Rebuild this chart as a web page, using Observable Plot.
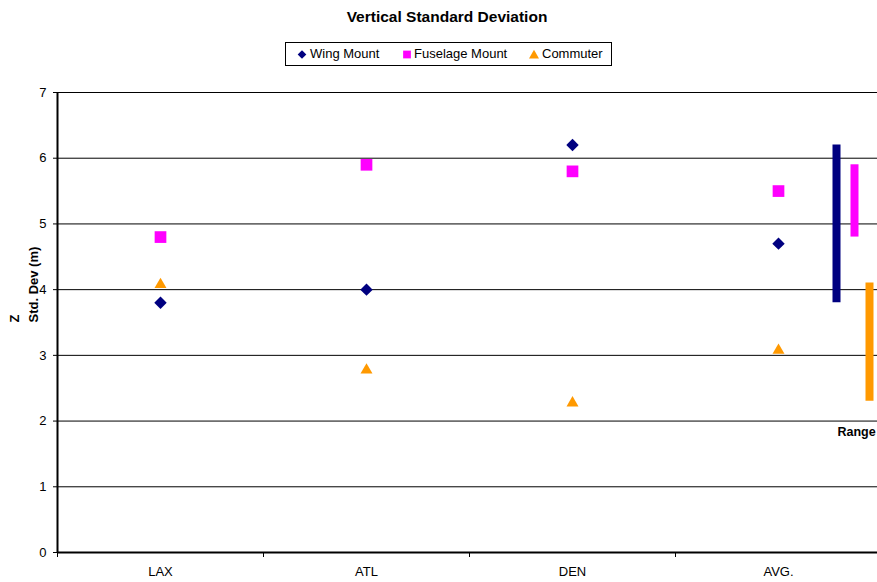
<!DOCTYPE html>
<html>
<head>
<meta charset="utf-8">
<script src="https://cdn.jsdelivr.net/npm/d3@7"></script>
<script src="https://cdn.jsdelivr.net/npm/@observablehq/plot@0.6"></script>
<style>
  html, body { margin: 0; padding: 0; background: #fff; overflow: hidden; }
  #chart { position: relative; width: 877px; height: 582px; overflow: hidden;
           font-family: Arial, "Liberation Sans", sans-serif; color: #000; }
  #title { position: absolute; left: 0; width: 894px; top: 7px; text-align: center;
           font-weight: bold; font-size: 15.5px; line-height: 20px; }
  #legend { position: absolute; left: 285px; top: 42px; width: 325px; height: 22px;
            border: 1px solid #000; box-sizing: content-box; font-size: 13px; }
  .item { position: absolute; top: 0; height: 22px; line-height: 22px; white-space: nowrap; }
  .item svg { position: absolute; top: 0; }
  #plot { position: absolute; left: 0; top: 80px; width: 900px; }
  #plot svg { max-width: none !important; }
</style>
</head>
<body>
<div id="chart">
  <div id="title">Vertical Standard Deviation</div>
  <div id="legend"></div>
  <div id="plot"></div>
</div>
<script>
// Vertical standard deviation (m) per airport, with the average column
const airports = ["LAX", "ATL", "DEN", "AVG."];
const wingMount = [3.8, 4.0, 6.2, 4.7];
const fuselageMount = [4.8, 5.9, 5.8, 5.5];
const commuter = [4.1, 2.8, 2.3, 3.1];
const yTicks = [0, 1, 2, 3, 4, 5, 6, 7];

const seriesNames = ["Wing Mount", "Fuselage Mount", "Commuter"];
const seriesColors = ["#000080", "#FF00FF", "#FF9900"];
const seriesValues = [wingMount, fuselageMount, commuter];

// one row per airport column, positioned at the middle of its slot
const rows = airports.map((name, i) => ({
  name, pos: i + 0.5,
  wing: wingMount[i], fuselage: fuselageMount[i], commuter: commuter[i]
}));
const avgPos = airports.length - 0.5;

// spread of each series over the three airports (the average column excluded)
const ranges = seriesValues.map((vals, k) => {
  const [lo, hi] = d3.extent(vals.slice(0, 3));
  return { name: seriesNames[k], lo, hi };
});

// legend
const legend = document.getElementById("legend");
const legendLayout = [
  { sym: d3.symbolDiamond2, size: 48, cx: 16, text: 24 },
  { sym: d3.symbolSquare, size: 60, cx: 121, text: 128 },
  { sym: d3.symbolTriangle2, size: 72, cx: 248, text: 256 }
];
legendLayout.forEach((l, k) => {
  const item = document.createElement("div");
  item.className = "item";
  item.style.left = "0px";
  item.style.width = "325px";
  const ns = "http://www.w3.org/2000/svg";
  const svg = document.createElementNS(ns, "svg");
  svg.setAttribute("width", 20);
  svg.setAttribute("height", 22);
  svg.style.left = (l.cx - 10) + "px";
  const path = document.createElementNS(ns, "path");
  path.setAttribute("d", d3.symbol(l.sym, l.size)());
  path.setAttribute("fill", seriesColors[k]);
  path.setAttribute("transform", `translate(10,${k === 2 ? 12.5 : 11.5})`);
  svg.appendChild(path);
  item.appendChild(svg);
  const span = document.createElement("span");
  span.textContent = seriesNames[k];
  span.style.position = "absolute";
  span.style.left = l.text + "px";
  item.appendChild(span);
  legend.appendChild(item);
});

const barOffsets = [58, 76, 91];

const chart = Plot.plot({
  width: 900,
  height: 502,
  marginLeft: 57,
  marginRight: 19,
  marginTop: 12,
  marginBottom: 30,
  x: { type: "linear", domain: [0, airports.length] },
  y: { domain: [0, 7] },
  style: {
    fontFamily: 'Arial, "Liberation Sans", sans-serif',
    fontSize: "13px",
    color: "#000",
    background: "transparent",
    overflow: "visible",
    maxWidth: "none"
  },
  marks: [
    // horizontal gridlines
    Plot.ruleY(yTicks.filter(d => d > 0), { stroke: "#000", strokeWidth: 1 }),
    // y axis
    Plot.axisY({ ticks: yTicks, tickSize: 4, tickPadding: 7, label: null, tickFormat: d => String(d) }),
    // slot boundary ticks on the x axis
    Plot.axisX({ ticks: d3.range(0, airports.length + 1), tickSize: 5, tickFormat: () => "", label: null }),
    // category labels at slot centres
    Plot.axisX({
      ticks: rows.map(r => r.pos), tickSize: 0, tickPadding: 14, label: null,
      tickFormat: d => airports[Math.floor(d)]
    }),
    // axis lines
    Plot.ruleX([0], { stroke: "#000", strokeWidth: 2 }),
    Plot.ruleY([0], { stroke: "#000", strokeWidth: 2 }),
    // axis title
    Plot.text(["Z"], { text: d => d, frameAnchor: "left", dx: -43, rotate: -90, fontWeight: "bold", fontSize: 13 }),
    Plot.text(["Std. Dev (m)"], { text: d => d, frameAnchor: "left", dx: -24, rotate: -90, fontWeight: "bold", fontSize: 13 }),
    // series markers
    Plot.dot(rows, { x: "pos", y: "wing", symbol: "diamond2", r: 5.6, fill: seriesColors[0], stroke: null }),
    Plot.dot(rows, { x: "pos", y: "fuselage", symbol: "square", r: 6.6, fill: seriesColors[1], stroke: null }),
    Plot.dot(rows, { x: "pos", y: "commuter", symbol: "triangle2", r: 5.7, dy: 1.6, fill: seriesColors[2], stroke: null }),
    // range bars next to the average column
    ...ranges.map((r, k) => Plot.ruleX([r], {
      x: () => avgPos, y1: "lo", y2: "hi", dx: barOffsets[k],
      stroke: seriesColors[k], strokeWidth: 8
    })),
    Plot.text(["Range"], {
      text: d => d, x: () => avgPos, y: () => 2, dx: 59, dy: 11,
      textAnchor: "start", fontWeight: "bold", fontSize: 12.5
    })
  ]
});

document.getElementById("plot").appendChild(chart);
</script>
</body>
</html>
